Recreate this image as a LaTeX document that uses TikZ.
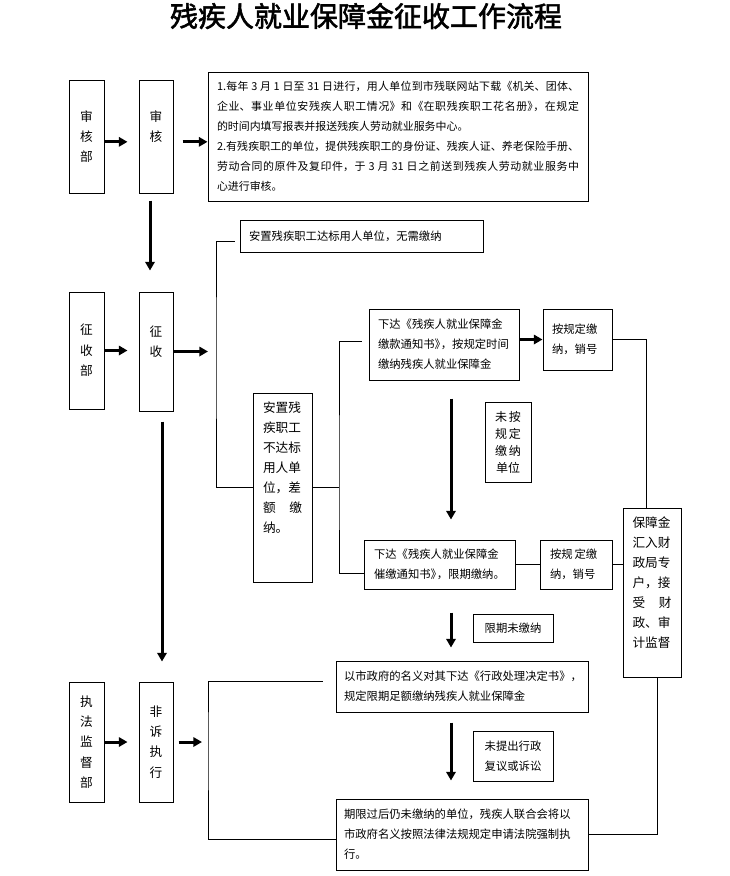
\documentclass[tikz,border=0pt]{standalone}
\usepackage{fontspec}
\setmainfont{Noto Sans CJK SC}
\newfontfamily\titlefont{Noto Sans CJK SC}[FakeBold=2]
\usetikzlibrary{arrows.meta}

\tikzset{
  box/.style={draw, line width=.75pt, inner sep=0pt},
  side/.style={box, align=center, font=\fontsize{9.5pt}{15.25pt}\selectfont},
  tall/.style={box, align=left, font=\fontsize{9.5pt}{15pt}\selectfont},
  note/.style={box, align=left, font=\fontsize{8.5pt}{15pt}\selectfont},
  arr/.style={line width=2.25pt, -{Triangle[length=6.5pt,width=7pt]}},
  link/.style={line width=.75pt},
}

\begin{document}
\begin{tikzpicture}[x=.75pt, y=-.75pt]
        \useasboundingbox (0,0) rectangle (730,876);
        \node[font=\titlefont\fontsize{21pt}{21pt}\selectfont] (title) at (366,16) {残疾人就业保障金征收工作流程};

        % left column
        \node[side, minimum width=26.25pt, minimum height=84.75pt] (shenhebu) at (86.5,136.5) {审\\核\\部};
        \node[side, minimum width=25.5pt, minimum height=84.75pt] (shenhe) at (156,136.5) {审\\核\\\mbox{}};
        \node[side, minimum width=26.25pt, minimum height=87.75pt] (zhengshoubu) at (86.5,350.5) {征\\收\\部};
        \node[side, minimum width=25.5pt, minimum height=89.25pt] (zhengshou) at (156,351.5) {征\\收\\\mbox{}};
        \node[side, minimum width=26.25pt, minimum height=90pt] (zhifabu) at (86.5,742) {执\\法\\监\\督\\部};
        \node[side, minimum width=25.5pt, minimum height=90pt] (feisu) at (156,742) {非\\诉\\执\\行};

        % top
        \node[note, align=justify, text width=271.5pt, minimum width=285pt, minimum height=96.75pt, font=\fontsize{8.2pt}{15pt}\selectfont] (info) at (398,136.5) {\XeTeXlinebreaklocale "zh"\XeTeXlinebreakskip=0pt plus 1pt\relax 1.每年 3 月 1 日至 31 日进行，用人单位到市残联网站下载《机关、团体、\linebreak 企业、事业单位安残疾人职工情况》和《在职残疾职工花名册》\kern-.45em，在规定\linebreak 的时间内填写报表并报送残疾人劳动就业服务中心。\par 2.有残疾职工的单位，提供残疾职工的身份证、残疾人证、养老保险手册、\linebreak 劳动合同的原件及复印件，于 3 月 31 日之前送到残疾人劳动就业服务中\linebreak 心进行审核。\XeTeXlinebreaklocale ""\relax};

        % middle
        \node[note, text width=168.75pt, minimum width=182.25pt, minimum height=24pt] (dabiao) at (361.5,236) {安置残疾职工达标用人单位，无需缴纳};
        \node[tall, text width=29.25pt, minimum width=44.25pt, minimum height=141.75pt] (budabiao) at (282.5,487.5) {安置残\\疾职工\\不达标\\用人单\\位，差\\额\hfill 缴\\纳。\\\mbox{}\\\mbox{}};
        \node[note, text width=99pt, minimum width=112.5pt, minimum height=53.25pt] (jiaokuan) at (444,344.5) {下达《残疾人就业保障金\\缴款通知书》\kern-.45em，按规定时间\\缴纳残疾人就业保障金};
        \node[note, text width=38.25pt, minimum width=51.75pt, minimum height=45.75pt] (anguiding1) at (577.5,339.5) {按规定缴\\纳，销号};
        \node[box, align=center, minimum width=34.5pt, minimum height=60pt, font=\fontsize{9pt}{12.75pt}\selectfont] (weian) at (508,442) {未\,按\\规\,定\\缴\,纳\\单位};
        \node[note, text width=98.25pt, minimum width=113.25pt, minimum height=36.75pt] (cuijiao) at (439.5,564.5) {下达《残疾人就业保障金\\催缴通知书》\kern-.45em，限期缴纳。};
        \node[note, text width=39pt, minimum width=54pt, minimum height=36.75pt] (anguiding2) at (576,564.5) {按规\,定缴\\纳，销号};
        \node[tall, text width=29.25pt, minimum width=43.5pt, minimum height=126.75pt] (baozhang) at (652,592.5) {保障金\\汇入财\\政局专\\户，接\\受\hfill 财\\政、审\\计监督\\\mbox{}};

        % bottom
        \node[note, align=center, minimum width=60pt, minimum height=21pt] (xianqi) at (513,628) {限期未缴纳};
        \node[note, text width=177pt, minimum width=189pt, minimum height=38.25pt] (chuli) at (462,686.5) {以市政府的名义对其下达《行政处理决定书》，\\规定限期足额缴纳残疾人就业保障金};
        \node[note, align=center, minimum width=60pt, minimum height=37.5pt] (weitichu) at (513,756) {未提出行政\\复议或诉讼};
        \node[note, text width=177pt, minimum width=189pt, minimum height=53.25pt] (qiangzhi) at (462,834.5) {期限过后仍未缴纳的单位，残疾人联合会将以\\市政府名义按照法律法规规定申请法院强制执\\行。};

        \coordinate (j1) at (216,351.5);
        \coordinate (j2) at (339,487.5);
        \coordinate (j3) at (208,742);
        \coordinate (midx) at (451,0);

        % arrows
        \draw[arr, shorten >=8.25pt] ([yshift=-4pt]shenhebu.east) -- ([yshift=-4pt]shenhe.west);
        \draw[arr, shorten <=6.75pt] ([yshift=-4pt]shenhe.east) -- ([yshift=-4pt]info.west);
        \draw[arr, shorten <=5.25pt, shorten >=15.75pt] ([xshift=-4.5pt]shenhe.south) -- ([xshift=-4.5pt]zhengshou.north);
        \draw[arr, shorten >=8.25pt] (zhengshoubu.east) -- (zhengshoubu.east -| zhengshou.west);
        \draw[arr, shorten >=6pt] (zhengshou.east) -- (j1);
        \draw[arr, shorten <=7.5pt, shorten >=15pt] ([xshift=4.5pt]zhengshou.south) -- ([xshift=4.5pt]feisu.north);
        \draw[arr, shorten >=8.25pt] (zhifabu.east) -- (feisu.west);
        \draw[arr, shorten <=3.75pt, shorten >=4.5pt] (feisu.east) -- (j3);
        \draw[arr] (jiaokuan.east |- anguiding1) -- (anguiding1.west);
        \draw[arr, shorten <=13.5pt, shorten >=15pt] (jiaokuan.south -| midx) -- (cuijiao.north -| midx);
        \draw[arr, shorten <=17.25pt, shorten >=9.75pt] (cuijiao.south -| midx) -- (chuli.north -| midx);
        \draw[arr, shorten <=7.5pt, shorten >=13.5pt] (chuli.south -| midx) -- (qiangzhi.north -| midx);

        % lines
        \draw[link] ([shift={(-3.75pt,-3.75pt)}]dabiao.west) -| (j1) |- (budabiao.west);
        \draw[link] (budabiao.east) -- (j2);
        \draw[link] ([shift={(-5.25pt,2.6pt)}]jiaokuan.west) -| (j2) |- ([yshift=-6.4pt]cuijiao.west);
        \draw[link] (anguiding1.east) -| ([xshift=-4.5pt]baozhang.north);
        \draw[link] (cuijiao.east) -- (anguiding2.west);
        \draw[link] (anguiding2.east) -- (anguiding2.east -| baozhang.west);
        \draw[link] ([xshift=3.75pt]baozhang.south) |- (qiangzhi.east);
        \draw[link] ([shift={(-9.75pt,3.4pt)}]chuli.west) -| (j3) |- ([yshift=-3.4pt]qiangzhi.west);
\end{tikzpicture}
\end{document}
